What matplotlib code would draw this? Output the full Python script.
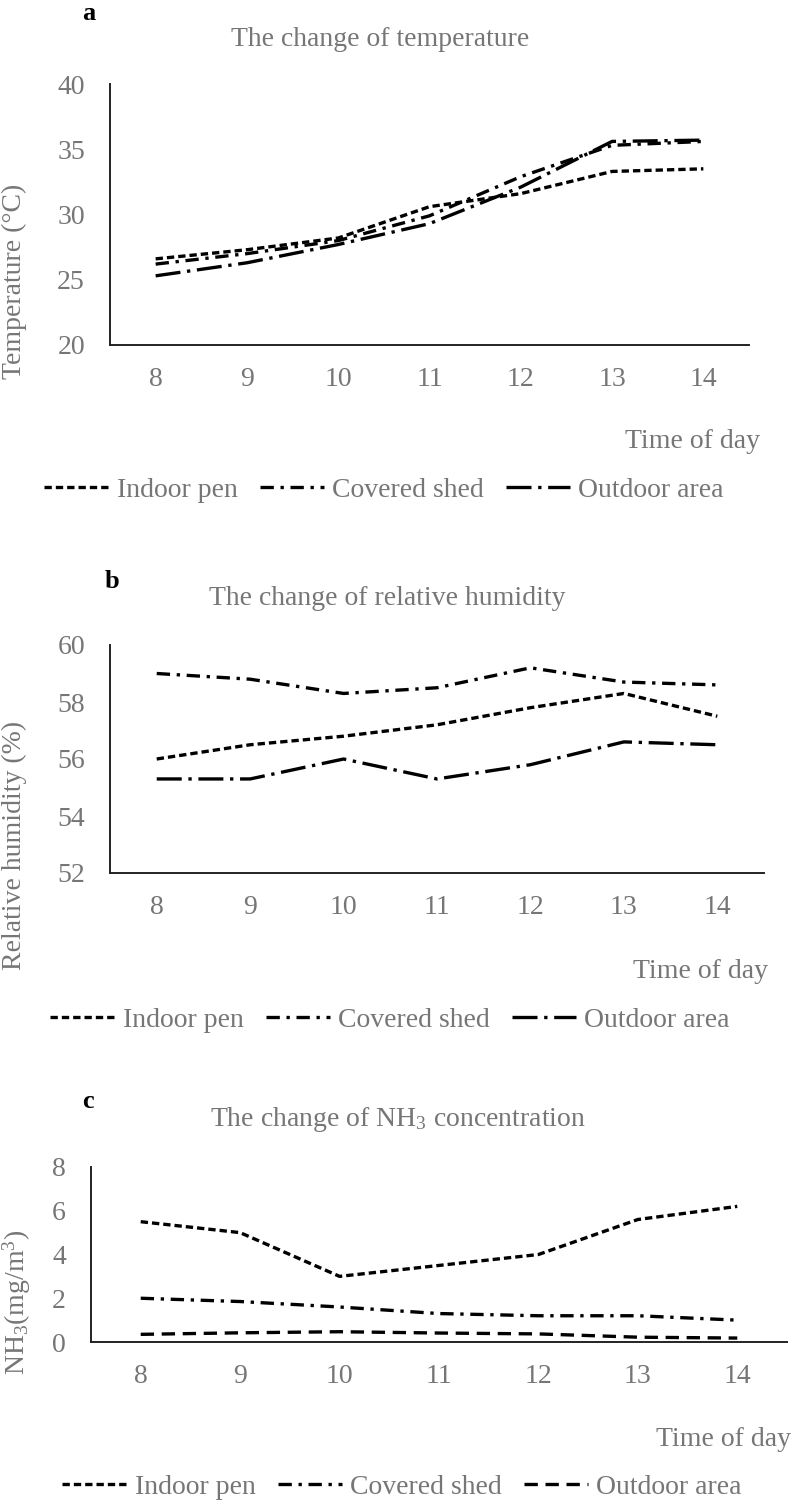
import numpy as np
import matplotlib
matplotlib.use('Agg')
import matplotlib.pyplot as plt

# Datos
horas = [8, 9, 10, 11, 12, 13, 14]

temp_indoor = [26.6, 27.3, 28.2, 30.6, 31.6, 33.3, 33.5]
temp_covered = [26.2, 27.0, 28.0, 29.9, 32.9, 35.3, 35.6]
temp_outdoor = [25.3, 26.3, 27.7, 29.3, 32.1, 35.6, 35.7]

hum_indoor = [56.0, 56.5, 56.8, 57.2, 57.8, 58.3, 57.5]
hum_covered = [59.0, 58.8, 58.3, 58.5, 59.2, 58.7, 58.6]
hum_outdoor = [55.3, 55.3, 56.0, 55.3, 55.8, 56.6, 56.5]

nh3_indoor = [5.5, 5.0, 3.0, 3.5, 4.0, 5.6, 6.2]
nh3_covered = [2.0, 1.85, 1.6, 1.3, 1.2, 1.2, 1.0]
nh3_outdoor = [0.35, 0.42, 0.47, 0.41, 0.37, 0.22, 0.18]

series_names = ['Indoor pen', 'Covered shed', 'Outdoor area']

plt.rcParams['font.family'] = ['Liberation Serif', 'DejaVu Serif']
plt.rcParams['mathtext.fontset'] = 'custom'
plt.rcParams['mathtext.rm'] = 'Liberation Serif'
plt.rcParams['mathtext.it'] = 'Liberation Serif:italic'
plt.rcParams['mathtext.default'] = 'regular'

gris = '#767676'
W, H = 792, 1502
fig = plt.figure(figsize=(W / 100, H / 100), dpi=100)


def fx(x):
    return x / W


def fy(y):
    return 1 - y / H


# Estilos de línea (en unidades del grosor)
estilo_punteado = (0, (2.2, 1.2))
estilo_raya_punto = (0, (4, 2, 1, 2))
estilo_raya_larga = (0, (7.5, 2, 1, 2))
estilo_rayas = (0, (4, 2.3))


def panel(L, R, T, B, ys, estilos, yticks, letra, titulo, ylabel,
          pos_letra, pos_titulo, pos_ylabel, pos_time, pos_leyenda):
    ax = fig.add_axes([fx(L), fy(B), (R - L) / W, (B - T) / H])
    for y, st, nombre in zip(ys, estilos, series_names):
        ax.plot(horas, y, color='black', lw=2.4, linestyle=st, label=nombre)
    ax.set_xlim(7.5, 14.5)
    ax.set_ylim(yticks[0], yticks[-1])
    ax.set_xticks(horas)
    ax.set_yticks(yticks)
    for s in ['top', 'right']:
        ax.spines[s].set_visible(False)
    for s in ['left', 'bottom']:
        ax.spines[s].set_linewidth(1.4)
        ax.spines[s].set_color('#222222')
    ax.tick_params(axis='both', length=0, labelsize=20, labelcolor=gris)
    ax.tick_params(axis='y', pad=18)
    ax.tick_params(axis='x', pad=16)

    fig.text(fx(pos_letra[0]), fy(pos_letra[1]), letra, fontsize=19,
             fontweight='bold', color='black', ha='center', va='center')
    fig.text(fx(pos_titulo[0]), fy(pos_titulo[1]), titulo, fontsize=20,
             color=gris, ha='center', va='center')
    fig.text(fx(pos_ylabel[0]), fy(pos_ylabel[1]), ylabel, fontsize=20,
             color=gris, ha='center', va='center', rotation=90)
    fig.text(fx(pos_time[0]), fy(pos_time[1]), 'Time of day', fontsize=20,
             color=gris, ha='right', va='center')
    leg = ax.legend(loc='center', bbox_to_anchor=(fx(pos_leyenda[0]), fy(pos_leyenda[1])),
                    bbox_transform=fig.transFigure, ncol=3, frameon=False,
                    fontsize=20, handlelength=2.3, handletextpad=0.3,
                    columnspacing=0.8, borderpad=0)
    for t in leg.get_texts():
        t.set_color(gris)
    return ax


panel(110, 749, 84, 345, [temp_indoor, temp_covered, temp_outdoor],
      [estilo_punteado, estilo_raya_punto, estilo_raya_larga],
      [20, 25, 30, 35, 40], 'a', 'The change of temperature',
      'Temperature (°C)', (89, 13), (380, 39), (14, 281), (760, 442), (384, 490))

panel(110, 764, 645, 873, [hum_indoor, hum_covered, hum_outdoor],
      [estilo_punteado, estilo_raya_punto, estilo_raya_larga],
      [52, 54, 56, 58, 60], 'b', 'The change of relative humidity',
      'Relative humidity (%)', (112, 582), (387, 598), (14, 845), (768, 972), (390, 1020))

panel(91, 787, 1167, 1342, [nh3_indoor, nh3_covered, nh3_outdoor],
      [estilo_punteado, estilo_raya_punto, estilo_rayas],
      [0, 2, 4, 6, 8], 'c', 'The change of NH$_3$ concentration',
      'NH$_3$(mg/m$^3$)', (88, 1102), (398, 1120), (17, 1302), (791, 1440), (402, 1487))

plt.savefig('out.png', dpi=100)
